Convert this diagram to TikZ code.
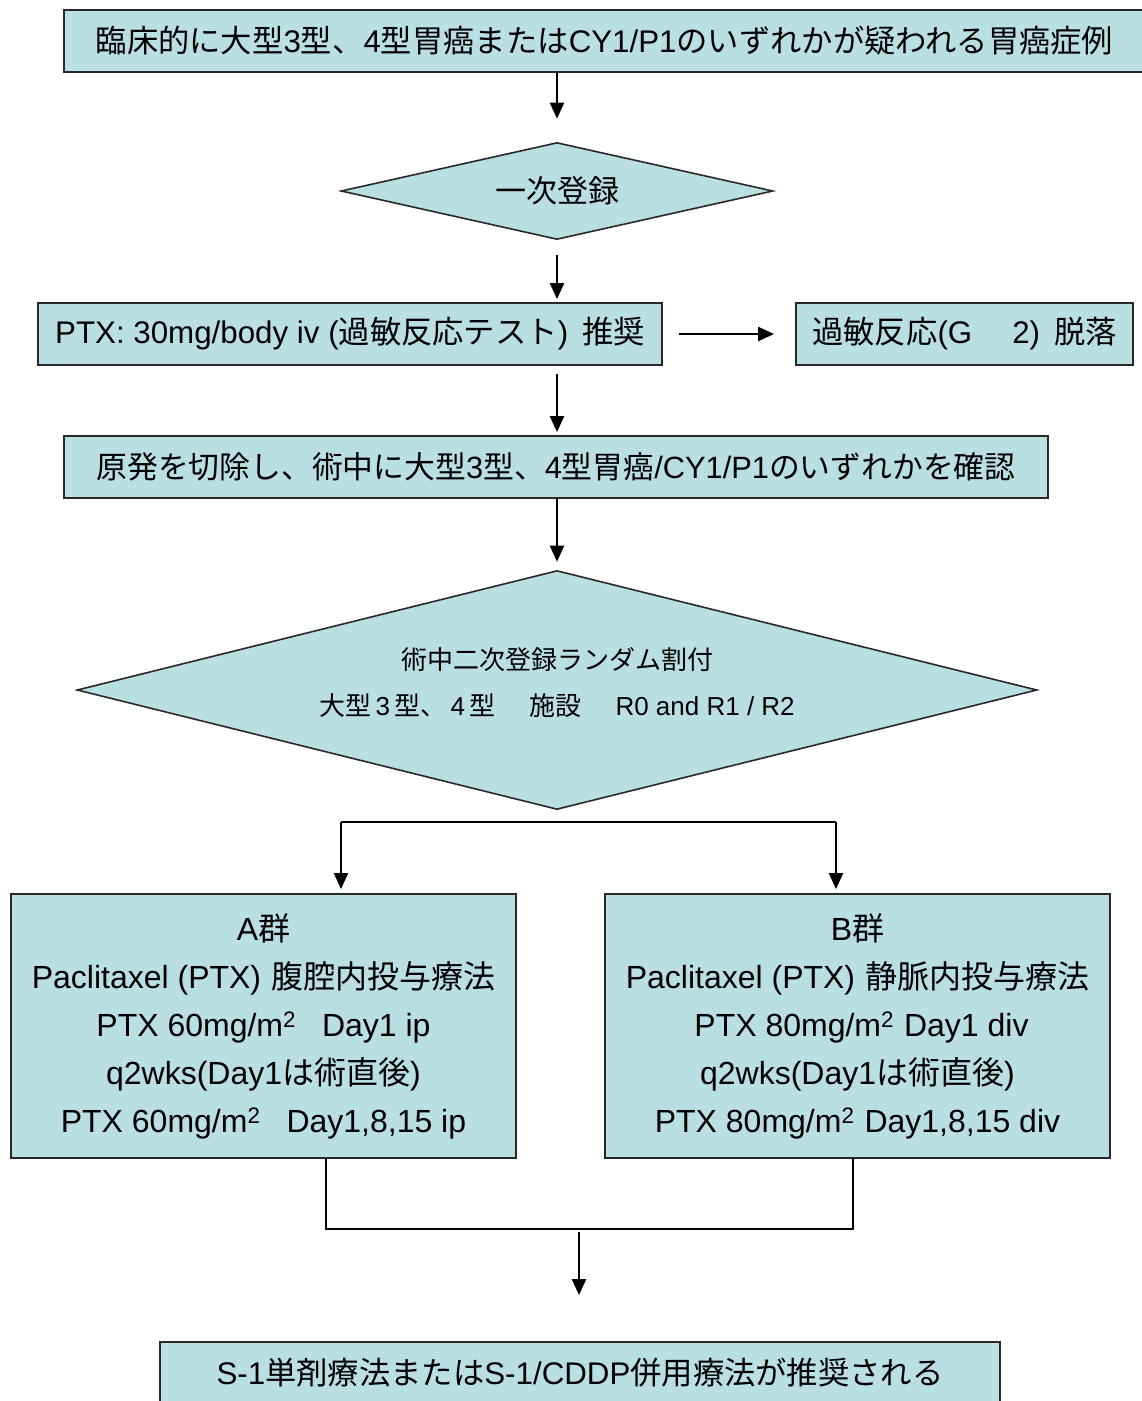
\documentclass[tikz,border=0pt]{standalone}
\usepackage{fontspec}
\setmainfont{Liberation Sans}
\newfontfamily\jpfont{Noto Sans CJK JP}
\newcommand\J[1]{{\jpfont #1}}
\usetikzlibrary{shapes.geometric,arrows.meta}
\definecolor{boxfill}{RGB}{185,223,227}
\definecolor{boxline}{RGB}{40,40,40}
\tikzset{
  box/.style={draw=boxline, fill=boxfill, line width=1.8pt, inner sep=0pt, align=center,
    font=\fontsize{31.3}{48}\selectfont},
  dia/.style={draw=boxline, fill=boxfill, line width=1.6pt, diamond, inner sep=0pt, align=center},
  arr/.style={line width=2.2pt, -{Triangle[length=16pt,width=14pt]}},
  ln/.style={line width=1.6pt}
}
\begin{document}
\begin{tikzpicture}[x=1pt,y=-1pt]
\useasboundingbox (0,0) rectangle (1142,1401);
\fill[white] (0,0) rectangle (1142,1401);

\node[box, minimum width=1081, minimum height=62] (top) at (604.5,41)
  {\J{臨床的に大型}3\J{型、}4\J{型胃癌または}CY1/P1\J{のいずれかが疑われる胃癌症例}};

\node[dia, aspect=4.45, minimum width=432, minimum height=97, font=\fontsize{31}{35}\selectfont] (d1) at (557,191) {\J{一次登録}};

\node[box, minimum width=624, minimum height=62] (ptx) at (350,334)
  {PTX: 30mg/body iv (\J{過敏反応テスト})\hspace{14pt}\J{推奨}};

\node[box, minimum width=337, minimum height=62] (kabin) at (964.5,334)
  {\J{過敏反応}(G\hspace{40pt}2)\hspace{14pt}\J{脱落}};

\node[box, minimum width=984, minimum height=62, font=\fontsize{30.8}{48}\selectfont] (gen) at (556,467)
  {\J{原発を切除し、術中に大型}3\J{型、}4\J{型胃癌}/CY1/P1\J{のいずれかを確認}};

\node[dia, aspect=4, minimum width=960, minimum height=239, font=\fontsize{26}{48}\selectfont] (d2) at (557,690)
  {\J{術中二次登録ランダム割付}\\[-2pt]\J{大型}\,3\,\J{型、}\,4\,\J{型}\hspace{34pt}\J{施設}\hspace{34pt}R0 and R1 / R2\\[-30pt]};

\node[box, minimum width=505, minimum height=264, font=\fontsize{32}{48}\selectfont] (ga) at (263.5,1026)
  {A\J{群}\\
   Paclitaxel (PTX)\hspace{10pt}\J{腹腔内投与療法}\\
   PTX 60mg/m\textsuperscript{2}\hspace{26pt}Day1 ip\\
   q2wks(Day1\J{は術直後})\\
   PTX 60mg/m\textsuperscript{2}\hspace{26pt}Day1,8,15 ip};

\node[box, minimum width=505, minimum height=264, font=\fontsize{32}{48}\selectfont] (gb) at (857.5,1026)
  {B\J{群}\\
   Paclitaxel (PTX)\hspace{10pt}\J{静脈内投与療法}\\
   \hspace{8pt}PTX 80mg/m\textsuperscript{2}\hspace{10pt}Day1 div\\
   q2wks(Day1\J{は術直後})\\
   PTX 80mg/m\textsuperscript{2}\hspace{10pt}Day1,8,15 div};

\node[box, minimum width=840, minimum height=62] (fin) at (580,1373)
  {S-1\J{単剤療法または}S-1/CDDP\J{併用療法が推奨される}};

% connectors
\draw[arr, shorten >=23pt] (top.south -| d1.north) -- (d1.north);
\draw[arr, shorten <=15pt, shorten >=3pt] (d1.south) -- (d1.south |- ptx.north);
\draw[arr, shorten <=16pt, shorten >=21pt] (ptx.east) -- (kabin.west);
\draw[arr, shorten <=8pt, shorten >=3pt] (d1.south |- ptx.south) -- (d1.south |- gen.north);
\draw[arr, shorten >=8pt] (d1.south |- gen.south) -- (d2.north);

\coordinate (bl) at (341,822);
\coordinate (br) at (836,822);
\draw[ln] (bl) -- (br);
\draw[arr, shorten >=4pt] (bl) -- (bl |- ga.north);
\draw[arr, shorten >=4pt] (br) -- (br |- gb.north);

\coordinate (ma) at (326,1229);
\coordinate (mb) at (853,1229);
\coordinate (mc) at (579,1232);
\draw[ln] (ma |- ga.south) -- (ma) -- (mb) -- (mb |- gb.south);
\draw[arr, shorten >=46pt] (mc) -- (mc |- fin.north);
\end{tikzpicture}
\end{document}
